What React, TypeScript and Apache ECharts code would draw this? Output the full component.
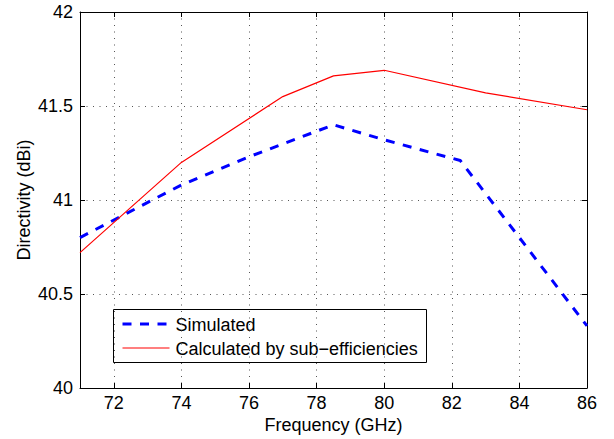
import React, { useEffect, useRef } from "react";
import * as echarts from "echarts";

const freqTicks = [72, 74, 76, 78, 80, 82, 84, 86];
const simFreq = [71, 74, 76, 78.5, 80, 82.25, 84, 86];
const simValues = [40.8, 41.08, 41.23, 41.4, 41.32, 41.21, 40.8, 40.33];
const calcFreq = [71, 74, 77, 78.5, 80, 83, 86];
const calcValues = [40.72, 41.2, 41.55, 41.66, 41.69, 41.57, 41.48];
const seriesNames = ["Simulated", "Calculated by sub\u2212efficiencies"];

const FONT = "'Liberation Sans', Arial, Helvetica, sans-serif";
const BLUE = "#0000ff";
const RED = "#ff0000";
const DASH = [9, 8.5];

export default function App() {
  const ref = useRef<HTMLDivElement>(null);
  useEffect(() => {
    if (!ref.current) return;
    const chart = echarts.init(ref.current, null, { renderer: "svg" });
    const gridLine = { show: true, lineStyle: { color: "#555", width: 1, type: [1, 5.5] } };
    const axisLine = { show: true, onZero: false, lineStyle: { color: "#000", width: 1 } };
    const tick = { show: true, inside: true, length: 5, lineStyle: { color: "#000" } };
    const txt = { fontSize: 18, color: "#000", fontFamily: FONT };
    chart.setOption({
      animation: false,
      backgroundColor: "#fff",
      grid: { left: 80, right: 27, top: 12, bottom: 51, containLabel: false },
      xAxis: [
        {
          type: "value",
          min: 71,
          max: 86,
          position: "bottom",
          name: "Frequency (GHz)",
          nameLocation: "middle",
          nameGap: 28,
          nameMoveOverlap: false,
          nameTextStyle: txt,
          axisLine,
          axisTick: { ...tick, customValues: freqTicks },
          axisLabel: { ...txt, customValues: freqTicks, margin: 6 },
          splitLine: gridLine,
        },
        {
          type: "value",
          min: 71,
          max: 86,
          position: "top",
          axisLine,
          axisTick: { ...tick, customValues: freqTicks },
          axisLabel: { show: false },
          splitLine: { show: false },
        },
      ],
      yAxis: [
        {
          type: "value",
          min: 40,
          max: 42,
          interval: 0.5,
          position: "left",
          name: "Directivity (dBi)",
          nameLocation: "middle",
          nameGap: 47,
          nameMoveOverlap: false,
          nameTextStyle: txt,
          axisLine,
          axisTick: tick,
          axisLabel: { ...txt, margin: 7 },
          splitLine: gridLine,
        },
        {
          type: "value",
          min: 40,
          max: 42,
          interval: 0.5,
          position: "right",
          axisLine,
          axisTick: tick,
          axisLabel: { show: false },
          splitLine: { show: false },
        },
      ],
      graphic: [
        {
          type: "group",
          left: 113,
          top: 309,
          z: 100,
          children: [
            {
              type: "rect",
              shape: { x: 0, y: 0, width: 313, height: 53 },
              style: { fill: "#fff", stroke: "#000", lineWidth: 1 },
            },
            {
              type: "line",
              shape: { x1: 9, y1: 14.5, x2: 56, y2: 14.5 },
              style: { stroke: BLUE, lineWidth: 3, lineDash: DASH },
            },
            {
              type: "text",
              x: 62,
              y: 15,
              style: { text: seriesNames[0], fill: "#000", font: `18px ${FONT}`, verticalAlign: "middle", align: "left" },
            },
            {
              type: "line",
              shape: { x1: 9, y1: 38.5, x2: 56, y2: 38.5 },
              style: { stroke: RED, lineWidth: 1.2 },
            },
            {
              type: "text",
              x: 62,
              y: 39,
              style: { text: seriesNames[1], fill: "#000", font: `18px ${FONT}`, verticalAlign: "middle", align: "left" },
            },
          ],
        },
      ],
      series: [
        {
          name: seriesNames[0],
          type: "line",
          xAxisIndex: 0,
          yAxisIndex: 0,
          symbol: "none",
          data: simFreq.map((f, i) => [f, simValues[i]]),
          lineStyle: { color: BLUE, width: 3, type: DASH },
          itemStyle: { color: BLUE },
          z: 3,
        },
        {
          name: seriesNames[1],
          type: "line",
          xAxisIndex: 0,
          yAxisIndex: 0,
          symbol: "none",
          data: calcFreq.map((f, i) => [f, calcValues[i]]),
          lineStyle: { color: RED, width: 1.2, type: "solid" },
          itemStyle: { color: RED },
          z: 3,
        },
      ],
    });
    return () => chart.dispose();
  }, []);
  return <div ref={ref} style={{ width: 614, height: 439, position: "absolute", left: 0, top: 0 }} />;
}
